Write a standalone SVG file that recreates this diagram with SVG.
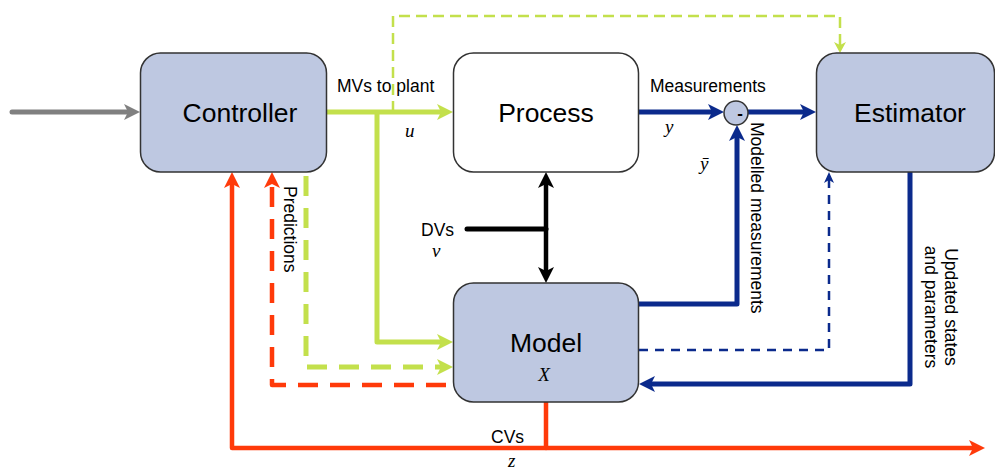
<svg xmlns="http://www.w3.org/2000/svg" width="995" height="472" viewBox="0 0 995 472">
  <style>
    .box { stroke: #333333; stroke-width: 1.5; }
    .blue { fill: #BEC8E1; }
    .white { fill: #FFFFFF; }
    .title { font-family: "Liberation Sans", Arial, sans-serif; font-size: 26.5px; fill: #000; text-anchor: middle; }
    .lbl { font-family: "Liberation Sans", Arial, sans-serif; font-size: 17.5px; fill: #000; }
    .math { font-family: "Liberation Serif", "Times New Roman", serif; font-style: italic; font-size: 19px; fill: #000; }
    .ln { fill: none; stroke-linejoin: round; }
    .g { stroke: #C3E04C; }
    .b { stroke: #0B2A8C; }
    .r { stroke: #FF3A0A; }
    .k { stroke: #000000; }
    .gr { stroke: #808080; }
  </style>
  <defs>
    <marker id="mGray" markerUnits="userSpaceOnUse" viewBox="0 -10 20 20" markerWidth="20" markerHeight="20" refX="4" refY="0" orient="auto">
      <path d="M0,-8 L16,0 L0,8 L4,0 Z" fill="#808080"/>
    </marker>
    <marker id="mGreen" markerUnits="userSpaceOnUse" viewBox="0 -10 20 20" markerWidth="20" markerHeight="20" refX="4" refY="0" orient="auto">
      <path d="M0,-8 L16,0 L0,8 L4,0 Z" fill="#C3E04C"/>
    </marker>
    <marker id="mGreenS" markerUnits="userSpaceOnUse" viewBox="0 -10 20 20" markerWidth="20" markerHeight="20" refX="3" refY="0" orient="auto">
      <path d="M0,-6 L11,0 L0,6 L3,0 Z" fill="#C3E04C"/>
    </marker>
    <marker id="mBlue" markerUnits="userSpaceOnUse" viewBox="0 -10 20 20" markerWidth="20" markerHeight="20" refX="4" refY="0" orient="auto">
      <path d="M0,-8 L16,0 L0,8 L4,0 Z" fill="#0B2A8C"/>
    </marker>
    <marker id="mBlueS" markerUnits="userSpaceOnUse" viewBox="0 -10 20 20" markerWidth="20" markerHeight="20" refX="3" refY="0" orient="auto">
      <path d="M0,-5 L11,0 L0,5 L3,0 Z" fill="#0B2A8C"/>
    </marker>
    <marker id="mRed" markerUnits="userSpaceOnUse" viewBox="0 -10 20 20" markerWidth="20" markerHeight="20" refX="4" refY="0" orient="auto">
      <path d="M0,-8 L16,0 L0,8 L4,0 Z" fill="#FF3A0A"/>
    </marker>
    <marker id="mBlack" markerUnits="userSpaceOnUse" viewBox="0 -10 20 20" markerWidth="20" markerHeight="20" refX="4" refY="0" orient="auto-start-reverse">
      <path d="M0,-8 L16,0 L0,8 L4,0 Z" fill="#000000"/>
    </marker>
  </defs>

  <!-- connectors -->
  <g id="connectors">
    <!-- external input -->
    <path class="ln gr" d="M12,112 L128,112" stroke-width="5" stroke-linecap="round" marker-end="url(#mGray)"/>
    <!-- MVs to plant and model -->
    <path class="ln g" d="M326,112 L441,112" stroke-width="5" marker-end="url(#mGreen)"/>
    <path class="ln g" d="M377,112 L377,342 L441,342" stroke-width="5" marker-end="url(#mGreen)"/>
    <!-- MVs to estimator -->
    <path class="ln g" d="M393,112 L393,16 L840,16 L840,45" stroke-width="2.5" stroke-dasharray="11,6" marker-end="url(#mGreenS)"/>
    <!-- predicted MVs to model -->
    <path class="ln g" d="M306,176 L306,367 L441,367" stroke-width="5" stroke-dasharray="20,12" marker-end="url(#mGreen)"/>
    <!-- measurements -->
    <path class="ln b" d="M639,112 L712,112" stroke-width="5" stroke-linecap="round" marker-end="url(#mBlue)"/>
    <path class="ln b" d="M748,112 L804,112" stroke-width="5" marker-end="url(#mBlue)"/>
    <!-- modelled measurements -->
    <path class="ln b" d="M639,304 L737,304 L737,137" stroke-width="5" marker-end="url(#mBlue)"/>
    <!-- model states to estimator -->
    <path class="ln b" d="M639,350 L829,350 L829,180" stroke-width="2.5" stroke-dasharray="9,7" marker-end="url(#mBlueS)"/>
    <!-- updated states and parameters -->
    <path class="ln b" d="M910,172 L910,384 L651,384" stroke-width="5" stroke-linecap="round" marker-end="url(#mBlue)"/>
    <!-- DVs -->
    <path class="ln k" d="M467,229 L546,229" stroke-width="5" stroke-linecap="round"/>
    <path class="ln k" d="M546,184 L546,271" stroke-width="4.5" marker-start="url(#mBlack)" marker-end="url(#mBlack)"/>
    <!-- CVs -->
    <path class="ln r" d="M546,402 L546,448" stroke-width="4.5" stroke-linecap="round"/>
    <path class="ln r" d="M546,448 L232,448 L232,184" stroke-width="4.5" marker-end="url(#mRed)"/>
    <path class="ln r" d="M546,448 L973,448" stroke-width="4.5" marker-end="url(#mRed)"/>
    <!-- predictions -->
    <path class="ln r" d="M446,385 L272,385 L272,184" stroke-width="4.5" stroke-dasharray="20,12" marker-end="url(#mRed)"/>
  </g>

  <!-- nodes -->
  <g id="controller">
    <rect class="box blue" x="140.5" y="53" width="186" height="119" rx="20"/>
    <text class="title" x="240" y="122">Controller</text>
  </g>
  <g id="process">
    <rect class="box white" x="453.5" y="53" width="185" height="119" rx="20"/>
    <text class="title" x="546" y="122">Process</text>
  </g>
  <g id="estimator">
    <rect class="box blue" x="816.5" y="53" width="178" height="119" rx="20"/>
    <text class="title" x="910" y="122">Estimator</text>
  </g>
  <g id="model">
    <rect class="box blue" x="453.5" y="283" width="185" height="119" rx="20"/>
    <text class="title" x="546" y="352">Model</text>
    <text class="math" x="544" y="381" text-anchor="middle" font-size="20">X</text>
  </g>
  <g id="subtractor">
    <circle class="box blue" cx="736" cy="113" r="12"/>
    <text x="740" y="119" font-family="Liberation Sans, Arial, sans-serif" font-size="17" font-weight="bold" text-anchor="middle">-</text>
  </g>

  <!-- labels -->
  <g id="labels">
    <text class="lbl" x="337" y="92">MVs to plant</text>
    <text class="math" x="405" y="137">u</text>
    <text class="lbl" x="650" y="92">Measurements</text>
    <text class="math" x="665" y="133">y</text>
    <text class="math" x="700" y="170">ȳ</text>
    <text class="lbl" transform="translate(751,122) rotate(90)">Modelled measurements</text>
    <text class="lbl" transform="translate(284,186) rotate(90)">Predictions</text>
    <text class="lbl" text-anchor="middle" transform="translate(945,307) rotate(90)">Updated states</text>
    <text class="lbl" text-anchor="middle" transform="translate(925,307) rotate(90)">and parameters</text>
    <text class="lbl" x="421" y="236">DVs</text>
    <text class="math" x="432" y="257">v</text>
    <text class="lbl" x="491" y="443">CVs</text>
    <text class="math" x="508" y="467">z</text>
  </g>
</svg>
